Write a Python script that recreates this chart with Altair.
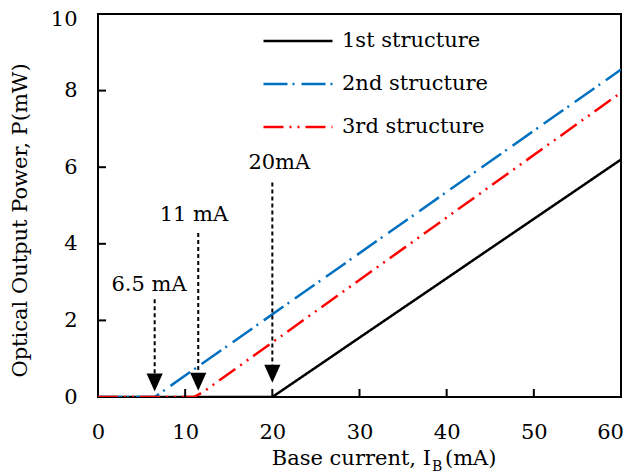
import altair as alt
import pandas as pd

# ---- data ----
series_names = ["1st structure", "2nd structure", "3rd structure"]
s1_x = [0, 20, 60]
s1_y = [0, 0, 6.2]
s2_x = [0, 6.5, 60]
s2_y = [0, 0, 8.55]
s3_x = [0, 11, 12, 60]
s3_y = [0, 0, 0.12, 7.95]

arrow_x = [6.5, 11.5, 20]
arrow_top = [2.55, 4.28, 5.6]
arrow_bottom = [0.55, 0.6, 0.8]
arrow_head_y = [0.38, 0.40, 0.61]
arrow_text = ["6.5 mA", "11 mA", "20mA"]
arrow_text_x = [5.85, 11.0, 20.8]
arrow_text_y = [2.92, 4.75, 6.1]

x_ticks = [0, 10, 20, 30, 40, 50, 60]
y_ticks = [0, 2, 4, 6, 8, 10]
x_inner_ticks = [10, 20, 30, 40, 50]
y_inner_ticks = [2, 4, 6, 8]

y_title = "Optical Output Power, P(mW)"
x_title_main = "Base current, I"
x_title_sub = "B"
x_title_end = "(mA)"

FONT = "DejaVu Serif"
W, H = 523, 383

rows = []
for name, xs_, ys_ in [(series_names[0], s1_x, s1_y), (series_names[1], s2_x, s2_y), (series_names[2], s3_x, s3_y)]:
    for i, (a, b) in enumerate(zip(xs_, ys_)):
        rows.append({"series": name, "x": a, "y": b, "o": i})
lines_df = pd.DataFrame(rows)

arrows_df = pd.DataFrame({"x": arrow_x, "top": arrow_top, "bottom": arrow_bottom, "head": arrow_head_y})
labels_df = pd.DataFrame({"x": arrow_text_x, "y": arrow_text_y, "t": arrow_text})

xs = alt.Scale(domain=[0, 60], nice=False)
ys = alt.Scale(domain=[0, 10], nice=False)

lines = alt.Chart(lines_df).mark_line(strokeWidth=2.5, clip=True).encode(
    x=alt.X("x:Q", scale=xs, axis=alt.Axis(values=x_ticks, title=None, labelFont=FONT, labelFontSize=21,
                                            labelColor="black", tickSize=0, labelPadding=24, domain=False,
                                            grid=False, labelFlush=False,
                                            labelOffset={"condition": {"test": "datum.value == 60", "value": -11},
                                                         "value": 0})),
    y=alt.Y("y:Q", scale=ys, axis=alt.Axis(values=y_ticks, title=y_title, labelFont=FONT, labelFontSize=21,
                                            labelColor="black", tickSize=0, labelPadding=21, domain=False,
                                            grid=False, titleFont=FONT, titleFontSize=21, titleFontWeight="normal",
                                            titleColor="black", titleX=-78, titleY=206, titleBaseline="middle",
                                            titleAlign="center", titleAngle=270, labelFlush=False,
                                            labelOffset={"condition": {"test": "datum.value == 10", "value": 5},
                                                         "value": 0})),
    color=alt.Color("series:N", scale=alt.Scale(domain=series_names, range=["black", "#0070C0", "#FF0000"]),
                    legend=alt.Legend(title=None, orient="none", legendX=164, legendY=17, symbolType="stroke",
                                      symbolSize=4761, symbolStrokeWidth=2.5, clipHeight=20, rowPadding=22,
                                      labelOffset=8, labelFont=FONT, labelFontSize=21, labelColor="black",
                                      padding=0, labelLimit=300)),
    strokeDash=alt.StrokeDash("series:N", scale=alt.Scale(domain=series_names,
                                                           range=[[1, 0], [24, 5, 2, 7], [20, 6, 2, 6, 2, 6]]),
                              legend=alt.Legend(title=None, orient="none", legendX=164, legendY=17)),
    order="o:Q",
)

arrow_lines = alt.Chart(arrows_df).mark_rule(strokeWidth=2, strokeDash=[4, 3], color="black").encode(
    x=alt.X("x:Q", scale=xs), y=alt.Y("top:Q", scale=ys), y2="bottom:Q"
)
arrow_heads = alt.Chart(arrows_df).mark_point(shape="M-0.9,-1L0.9,-1L0,1Z", filled=True, color="black",
                                              size=324, opacity=1).encode(
    x=alt.X("x:Q", scale=xs), y=alt.Y("head:Q", scale=ys)
)
arrow_labels = alt.Chart(labels_df).mark_text(font=FONT, fontSize=21, color="black", baseline="middle",
                                              align="center").encode(
    x=alt.X("x:Q", scale=xs), y=alt.Y("y:Q", scale=ys), text="t:N"
)

xtick_rules = alt.Chart(pd.DataFrame({"v": x_inner_ticks})).mark_rule(color="black", strokeWidth=2).encode(
    x=alt.X("v:Q", scale=xs), y=alt.value(H), y2=alt.value(H - 8)
)
ytick_rules = alt.Chart(pd.DataFrame({"v": y_inner_ticks})).mark_rule(color="black", strokeWidth=2).encode(
    y=alt.Y("v:Q", scale=ys), x=alt.value(0), x2=alt.value(8)
)

title_main = alt.Chart(pd.DataFrame({"t": [x_title_main]})).mark_text(
    font=FONT, fontSize=21, color="black", align="right", baseline="alphabetic").encode(
    x=alt.value(333), y=alt.value(451), text="t:N")
title_sub = alt.Chart(pd.DataFrame({"t": [x_title_sub]})).mark_text(
    font=FONT, fontSize=14, color="black", align="left", baseline="alphabetic").encode(
    x=alt.value(334), y=alt.value(457), text="t:N")
title_end = alt.Chart(pd.DataFrame({"t": [x_title_end]})).mark_text(
    font=FONT, fontSize=21, color="black", align="left", baseline="alphabetic").encode(
    x=alt.value(347), y=alt.value(451), text="t:N")

chart = alt.layer(
    lines, arrow_lines, arrow_heads, arrow_labels, xtick_rules, ytick_rules, title_main, title_sub, title_end
).resolve_scale(x="shared", y="shared").properties(
    width=W, height=H,
    autosize=alt.AutoSizeParams(type="none"),
    padding={"left": 90, "top": 6, "right": 5, "bottom": 77},
).configure_view(stroke="black", strokeWidth=2)

chart.save("out.html", embed_options={"renderer": "svg", "actions": False})
